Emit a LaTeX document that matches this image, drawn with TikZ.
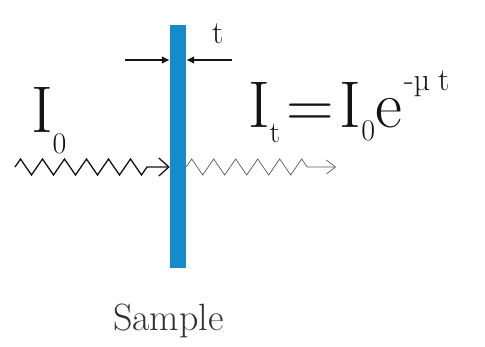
\documentclass[tikz,border=0pt]{standalone}
\usepackage{fontspec}
\usetikzlibrary{arrows.meta,decorations.pathmorphing}
\definecolor{barblue}{RGB}{22,139,204}
\definecolor{ink}{RGB}{20,20,20}
\definecolor{waveout}{RGB}{90,90,90}
\definecolor{capgray}{RGB}{50,50,50}
\tikzset{
  lbl/.style={inner sep=0pt, outer sep=0pt, anchor=base west, text=ink},
  dimarrow/.style={draw=ink, line width=2pt, -{Latex[length=8pt,width=8pt]}},
  wavein/.style={draw=ink, line width=1.3pt, -{Straight Barb[length=10pt,width=18pt]}, decorate,
     decoration={zigzag, segment length=22pt, amplitude=8pt, post length=18pt}},
  waveoutst/.style={draw=waveout, line width=0.7pt, -{Straight Barb[length=9pt,width=14pt]}, decorate,
     decoration={zigzag, segment length=22pt, amplitude=8pt, post length=18pt}}
}
\begin{document}
\begin{tikzpicture}[x=1pt,y=-1pt]
\useasboundingbox (0,0) rectangle (485,346);
% sample bar
\node[fill=barblue, inner sep=0pt, minimum width=16pt, minimum height=243pt] (bar) at (178,146.5) {};
% thickness arrows
\coordinate (dl) at (125,60);
\coordinate (dr) at (232,60);
\draw[dimarrow] (dl) -- (dl -| bar.west);
\draw[dimarrow] (dr) -- (dr -| bar.east);
\node[lbl, font=\fontsize{32}{32}\selectfont] (tlab) at (212,43) {t};
% waves
\coordinate (win) at (15,167);
\coordinate (wout) at (336,167);
\draw[wavein] (win) -- (win -| bar.west);
\draw[waveoutst] (wout -| bar.east) -- (wout);
% labels
\node[lbl] (i0) at (31,132) {\fontsize{66}{66}\selectfont I\raisebox{-21pt}{\fontsize{30}{30}\selectfont 0}};
\node[lbl] (eq) at (248,127) {\fontsize{66}{66}\selectfont I\raisebox{-15pt}{\fontsize{30}{30}\selectfont t}\hspace{6pt}=\hspace{6pt}I\raisebox{-13pt}{\fontsize{30}{30}\selectfont 0}e\hspace{2pt}\raisebox{37pt}{\fontsize{32}{32}\selectfont -µ\hspace{8pt}t}};
\node[lbl, text=capgray, font=\fontsize{38}{38}\selectfont] (samp) at (113,330) {Sample};
\end{tikzpicture}
\end{document}
